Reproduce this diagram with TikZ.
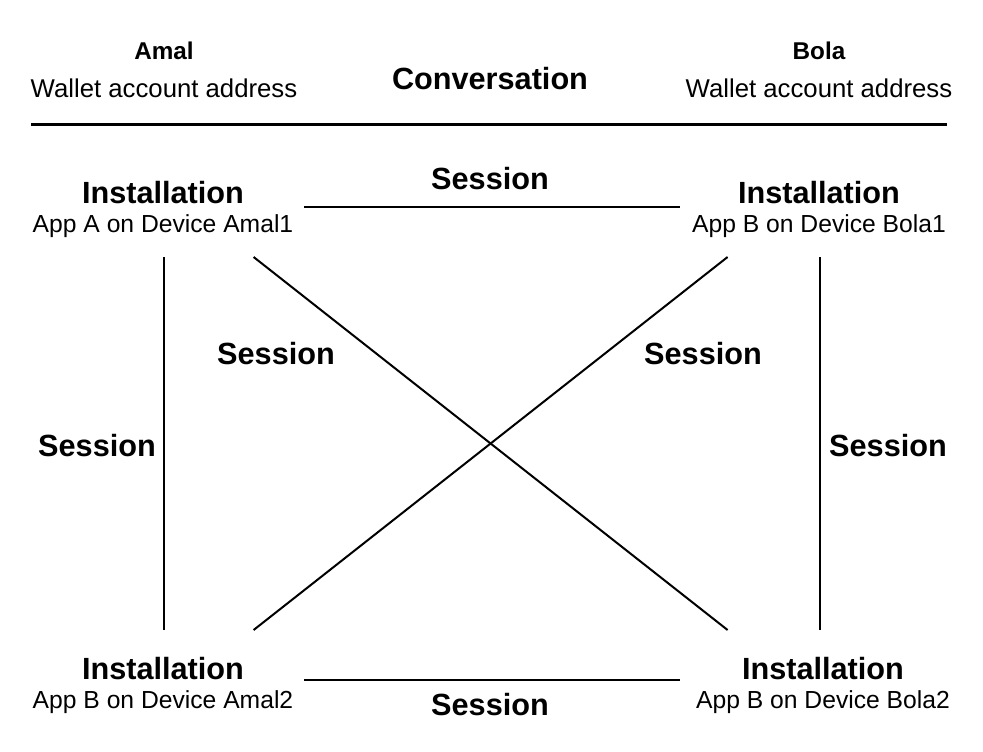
\documentclass[tikz,border=0pt]{standalone}
\usepackage{fontspec}
\setmainfont{Liberation Sans}
\usetikzlibrary{positioning, calc}

\begin{document}
\begin{tikzpicture}[x=0.75pt, y=-0.75pt]
  \tikzset{
    hub/.style={minimum width=210pt, minimum height=75pt, inner sep=0pt, outer sep=0pt},
    title/.style={font=\fontsize{23}{26}\selectfont\bfseries, anchor=base},
    sub/.style={font=\fontsize{18.5}{22}\selectfont, anchor=base},
    wallet/.style={font=\fontsize{19.3}{22}\selectfont, anchor=base},
    owner/.style={font=\fontsize{18.2}{20}\selectfont\bfseries, anchor=base},
    link/.style={line width=1.5pt}
  }
  \fill[white] (0,0) rectangle (983,751);
  \useasboundingbox (0,0) rectangle (983,751);

  % Conversation header
  \node[owner] (amal) at (164,59) {Amal};
  \node[wallet] (amalwallet) at (164,97) {Wallet account address};
  \node[owner] (bola) at (819,59) {Bola};
  \node[wallet] (bolawallet) at (819,97) {Wallet account address};
  \node[title] (conv) at (490,89) {Conversation};
  \coordinate (ruleL) at (31,124);
  \coordinate (ruleR) at (947,124);
  \draw[line width=2.25pt] (ruleL) -- (ruleR);

  % Installations
  \node[hub] (a1) at (164,207) {};
  \node[hub] (b1) at (820,207) {};
  \node[hub] (a2) at (164,680) {};
  \node[hub] (b2) at (820,680) {};

  \node[title] (a1title) at (163,203) {Installation};
  \node[sub] (a1app) at (163,232) {App A on Device Amal1};
  \node[title] (b1title) at (819,203) {Installation};
  \node[sub] (b1app) at (819,232) {App B on Device Bola1};
  \node[title] (a2title) at (163,679) {Installation};
  \node[sub] (a2app) at (163,708) {App B on Device Amal2};
  \node[title] (b2title) at (823,679) {Installation};
  \node[sub] (b2app) at (823,708) {App B on Device Bola2};

  % Sessions
  \draw[link] (a1.east) -- (b1.west);
  \draw[link] (a2.east) -- (b2.west);
  \draw[link] (a1.south) -- (a2.north);
  \draw[link] (b1.south) -- (b2.north);
  \draw[link] ($(a1.south)!0.64!(a1.south east)$) -- ($(b2.north)!0.66!(b2.north west)$);
  \draw[link] ($(b1.south)!0.66!(b1.south west)$) -- ($(a2.north)!0.64!(a2.north east)$);

  \node[title] (stop) at (490,189) {Session};
  \node[title] (sdiagl) at (276,364) {Session};
  \node[title] (sdiagr) at (703,364) {Session};
  \node[title] (sleft) at (97,456) {Session};
  \node[title] (sright) at (888,456) {Session};
  \node[title] (sbottom) at (490,715) {Session};
\end{tikzpicture}
\end{document}
